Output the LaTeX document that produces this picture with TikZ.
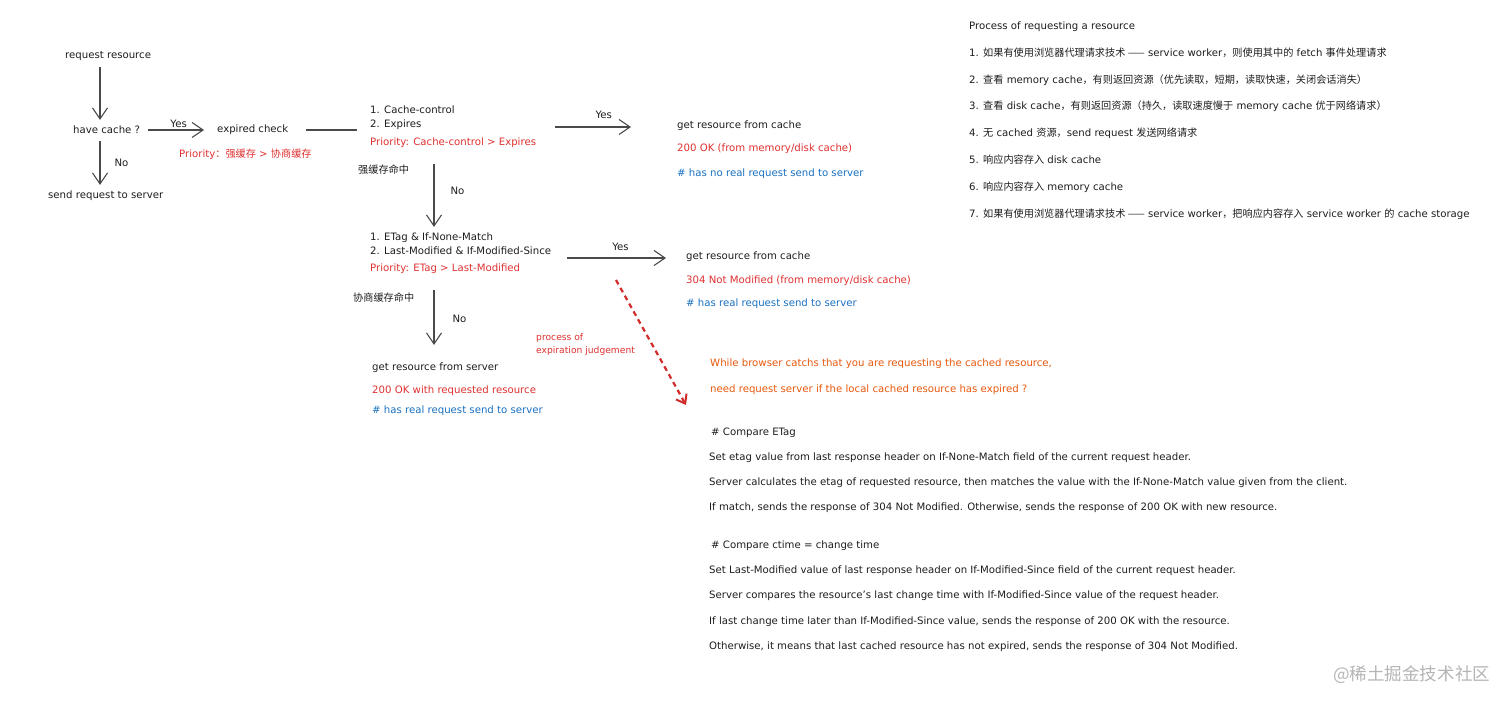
\documentclass[tikz,border=0pt]{standalone}
\usepackage{fontspec}
\setmainfont{DejaVu Sans}
\newfontfamily\cjk[Scale=1.0]{Noto Sans CJK SC}
\usetikzlibrary{arrows.meta,positioning}
\definecolor{SkInk}{HTML}{1E1E1E}
\definecolor{SkLine}{HTML}{4A4A4A}
\definecolor{SkRed}{HTML}{E03131}
\definecolor{SkDash}{HTML}{D12B2B}
\definecolor{SkBlue}{HTML}{1971C2}
\definecolor{SkOrange}{HTML}{E8590C}
\definecolor{SkMark}{HTML}{B5B5B5}
\newcommand{\skfont}{\fontsize{10.2}{14}\selectfont}

\begin{document}
\begin{tikzpicture}[x=1bp,y=-1bp,
    txt/.style={anchor=west,inner sep=0pt,font=\skfont,text=SkInk,align=left},
    redtxt/.style={txt,text=SkRed},
    bluetxt/.style={txt,text=SkBlue},
    orangetxt/.style={txt,text=SkOrange},
    arr/.style={draw=SkLine,line width=1.1bp,-{Straight Barb[length=11bp,width=15bp,line width=1.1bp]}},
    plainline/.style={draw=SkLine,line width=1.1bp}]
        \useasboundingbox[fill=white] (0,0) rectangle (1512,708);

        \coordinate (colA) at (100,0);
        \coordinate (colB) at (434,0);

        \node[txt] (reqRes) at (65,56) {request resource};
        \node[txt] (hasCache) at (73,130) {have cache ?};
        \node[txt] (sendReq) at (48,196) {send request to server};
        \node[txt] (expCheck) at (217,130) {expired check};
        \node[redtxt] (prioAll) at (179,154) {Priority{\cjk：强缓存} > {\cjk 协商缓存}};

        \draw[arr,shorten <=6bp,shorten >=6bp] (reqRes.south -| colA) -- (hasCache.north -| colA);
        \draw[arr,shorten <=8bp,shorten >=13bp] (hasCache.east) -- (expCheck.west)
          node[midway,above=2bp,txt,anchor=south] (yesA) {Yes};
        \draw[arr,shorten <=7bp,shorten >=6bp] (hasCache.south -| colA) -- (sendReq.north -| colA)
          node[midway,right=14bp,txt] (noA) {No};

        \node[txt] (strongCond) at (370,118) {1. Cache-control\\2. Expires};
        \node[redtxt] (strongPrio) at (370,143) {Priority: Cache-control > Expires};
        \node[txt] (strongHit) at (358,170) {\cjk 强缓存命中};
        \draw[plainline,shorten <=18bp,shorten >=13bp] (expCheck.east) -- (strongCond.west |- expCheck.east)
          coordinate (expEnd);

        \node[txt] (fromCacheA) at (677,126) {get resource from cache};
        \node[redtxt] (okCache) at (677,149) {200 OK (from memory/disk cache)};
        \node[bluetxt] (noRealReq) at (677,174) {\# has no real request send to server};
        \coordinate (yesStartB) at (555,127);
        \draw[arr,shorten >=46bp] (yesStartB) -- (fromCacheA.west |- yesStartB)
          node[pos=.4,above=8bp,txt,anchor=south] (yesB) {Yes};

        \node[txt] (negCond) at (370,244) {1. ETag \& If-None-Match\\2. Last-Modified \& If-Modified-Since};
        \node[redtxt] (negPrio) at (370,269) {Priority: ETag > Last-Modified};
        \node[txt] (negHit) at (353,298) {\cjk 协商缓存命中};
        \draw[arr,shorten <=16bp,shorten >=6bp] (strongPrio.south -| colB) -- (negCond.north -| colB)
          node[midway,right=16bp,txt] (noB) {No};

        \node[txt] (fromCacheB) at (686,257) {get resource from cache};
        \node[redtxt] (notModified) at (686,281) {304 Not Modified (from memory/disk cache)};
        \node[bluetxt] (realReqA) at (686,304) {\# has real request send to server};
        \coordinate (yesStartC) at (567,258);
        \draw[arr,shorten >=20bp] (yesStartC) -- (fromCacheB.west |- yesStartC)
          node[pos=.45,above=7bp,txt,anchor=south] (yesC) {Yes};

        \node[txt] (fromServer) at (372,368) {get resource from server};
        \node[redtxt] (okServer) at (372,391) {200 OK with requested resource};
        \node[bluetxt] (realReqB) at (372,411) {\# has real request send to server};
        \draw[arr,shorten <=16bp,shorten >=18bp] (negPrio.south -| colB) -- (fromServer.north -| colB)
          node[midway,right=18bp,txt] (noC) {No};

        \coordinate (judgeStart) at (616,280);
        \coordinate (judgeEnd) at (686,405);
        \draw[draw=SkDash,line width=2.2bp,dash pattern=on 5bp off 4bp,
          -{Straight Barb[length=8bp,width=12bp,line width=2bp]}] (judgeStart) -- (judgeEnd);
        \node[redtxt,font=\fontsize{9.2}{13}\selectfont] (judgeNote) at (536,344) {process of\\expiration judgement};

        \node[orangetxt] (askA) at (710,364) {While browser catchs that you are requesting the cached resource,};
        \node[orangetxt] (askB) at (710,390) {need request server if the local cached resource has expired ?};

        \node[txt] (etagHead) at (711,433) {\# Compare ETag};
        \node[txt] (etagA) at (709,458) {Set etag value from last response header on If-None-Match field of the current request header.};
        \node[txt] (etagB) at (709,483) {Server calculates the etag of requested resource, then matches the value with the If-None-Match value given from the client.};
        \node[txt] (etagC) at (709,508) {If match, sends the response of 304 Not Modified. Otherwise, sends the response of 200 OK with new resource.};

        \node[txt] (ctimeHead) at (711,546) {\# Compare ctime = change time};
        \node[txt] (ctimeA) at (709,571) {Set Last-Modified value of last response header on If-Modified-Since field of the current request header.};
        \node[txt] (ctimeB) at (709,596) {Server compares the resource's last change time with If-Modified-Since value of the request header.};
        \node[txt] (ctimeC) at (709,622) {If last change time later than If-Modified-Since value, sends the response of 200 OK with the resource.};
        \node[txt] (ctimeD) at (709,647) {Otherwise, it means that last cached resource has not expired, sends the response of 304 Not Modified.};

        \node[txt] (stepHead) at (969,27) {Process of requesting a resource};
        \node[txt] (stepA) at (969,53) {1. {\cjk 如果有使用浏览器代理请求技术 ——} service worker{\cjk ，则使用其中的} fetch {\cjk 事件处理请求}};
        \node[txt] (stepB) at (969,80) {2. {\cjk 查看} memory cache{\cjk ，有则返回资源（优先读取，短期，读取快速，关闭会话消失）}};
        \node[txt] (stepC) at (969,106) {3. {\cjk 查看} disk cache{\cjk ，有则返回资源（持久，读取速度慢于} memory cache {\cjk 优于网络请求）}};
        \node[txt] (stepD) at (969,133) {4. {\cjk 无} cached {\cjk 资源，}send request {\cjk 发送网络请求}};
        \node[txt] (stepE) at (969,160) {5. {\cjk 响应内容存入} disk cache};
        \node[txt] (stepF) at (969,187) {6. {\cjk 响应内容存入} memory cache};
        \node[txt] (stepG) at (969,214) {7. {\cjk 如果有使用浏览器代理请求技术 ——} service worker{\cjk ，把响应内容存入} service worker {\cjk 的} cache storage};

        \node[txt,text=SkMark,font=\fontsize{17.6}{20}\selectfont] (siteMark) at (1333,675) {\cjk @稀土掘金技术社区};
      \end{tikzpicture}
\end{document}
